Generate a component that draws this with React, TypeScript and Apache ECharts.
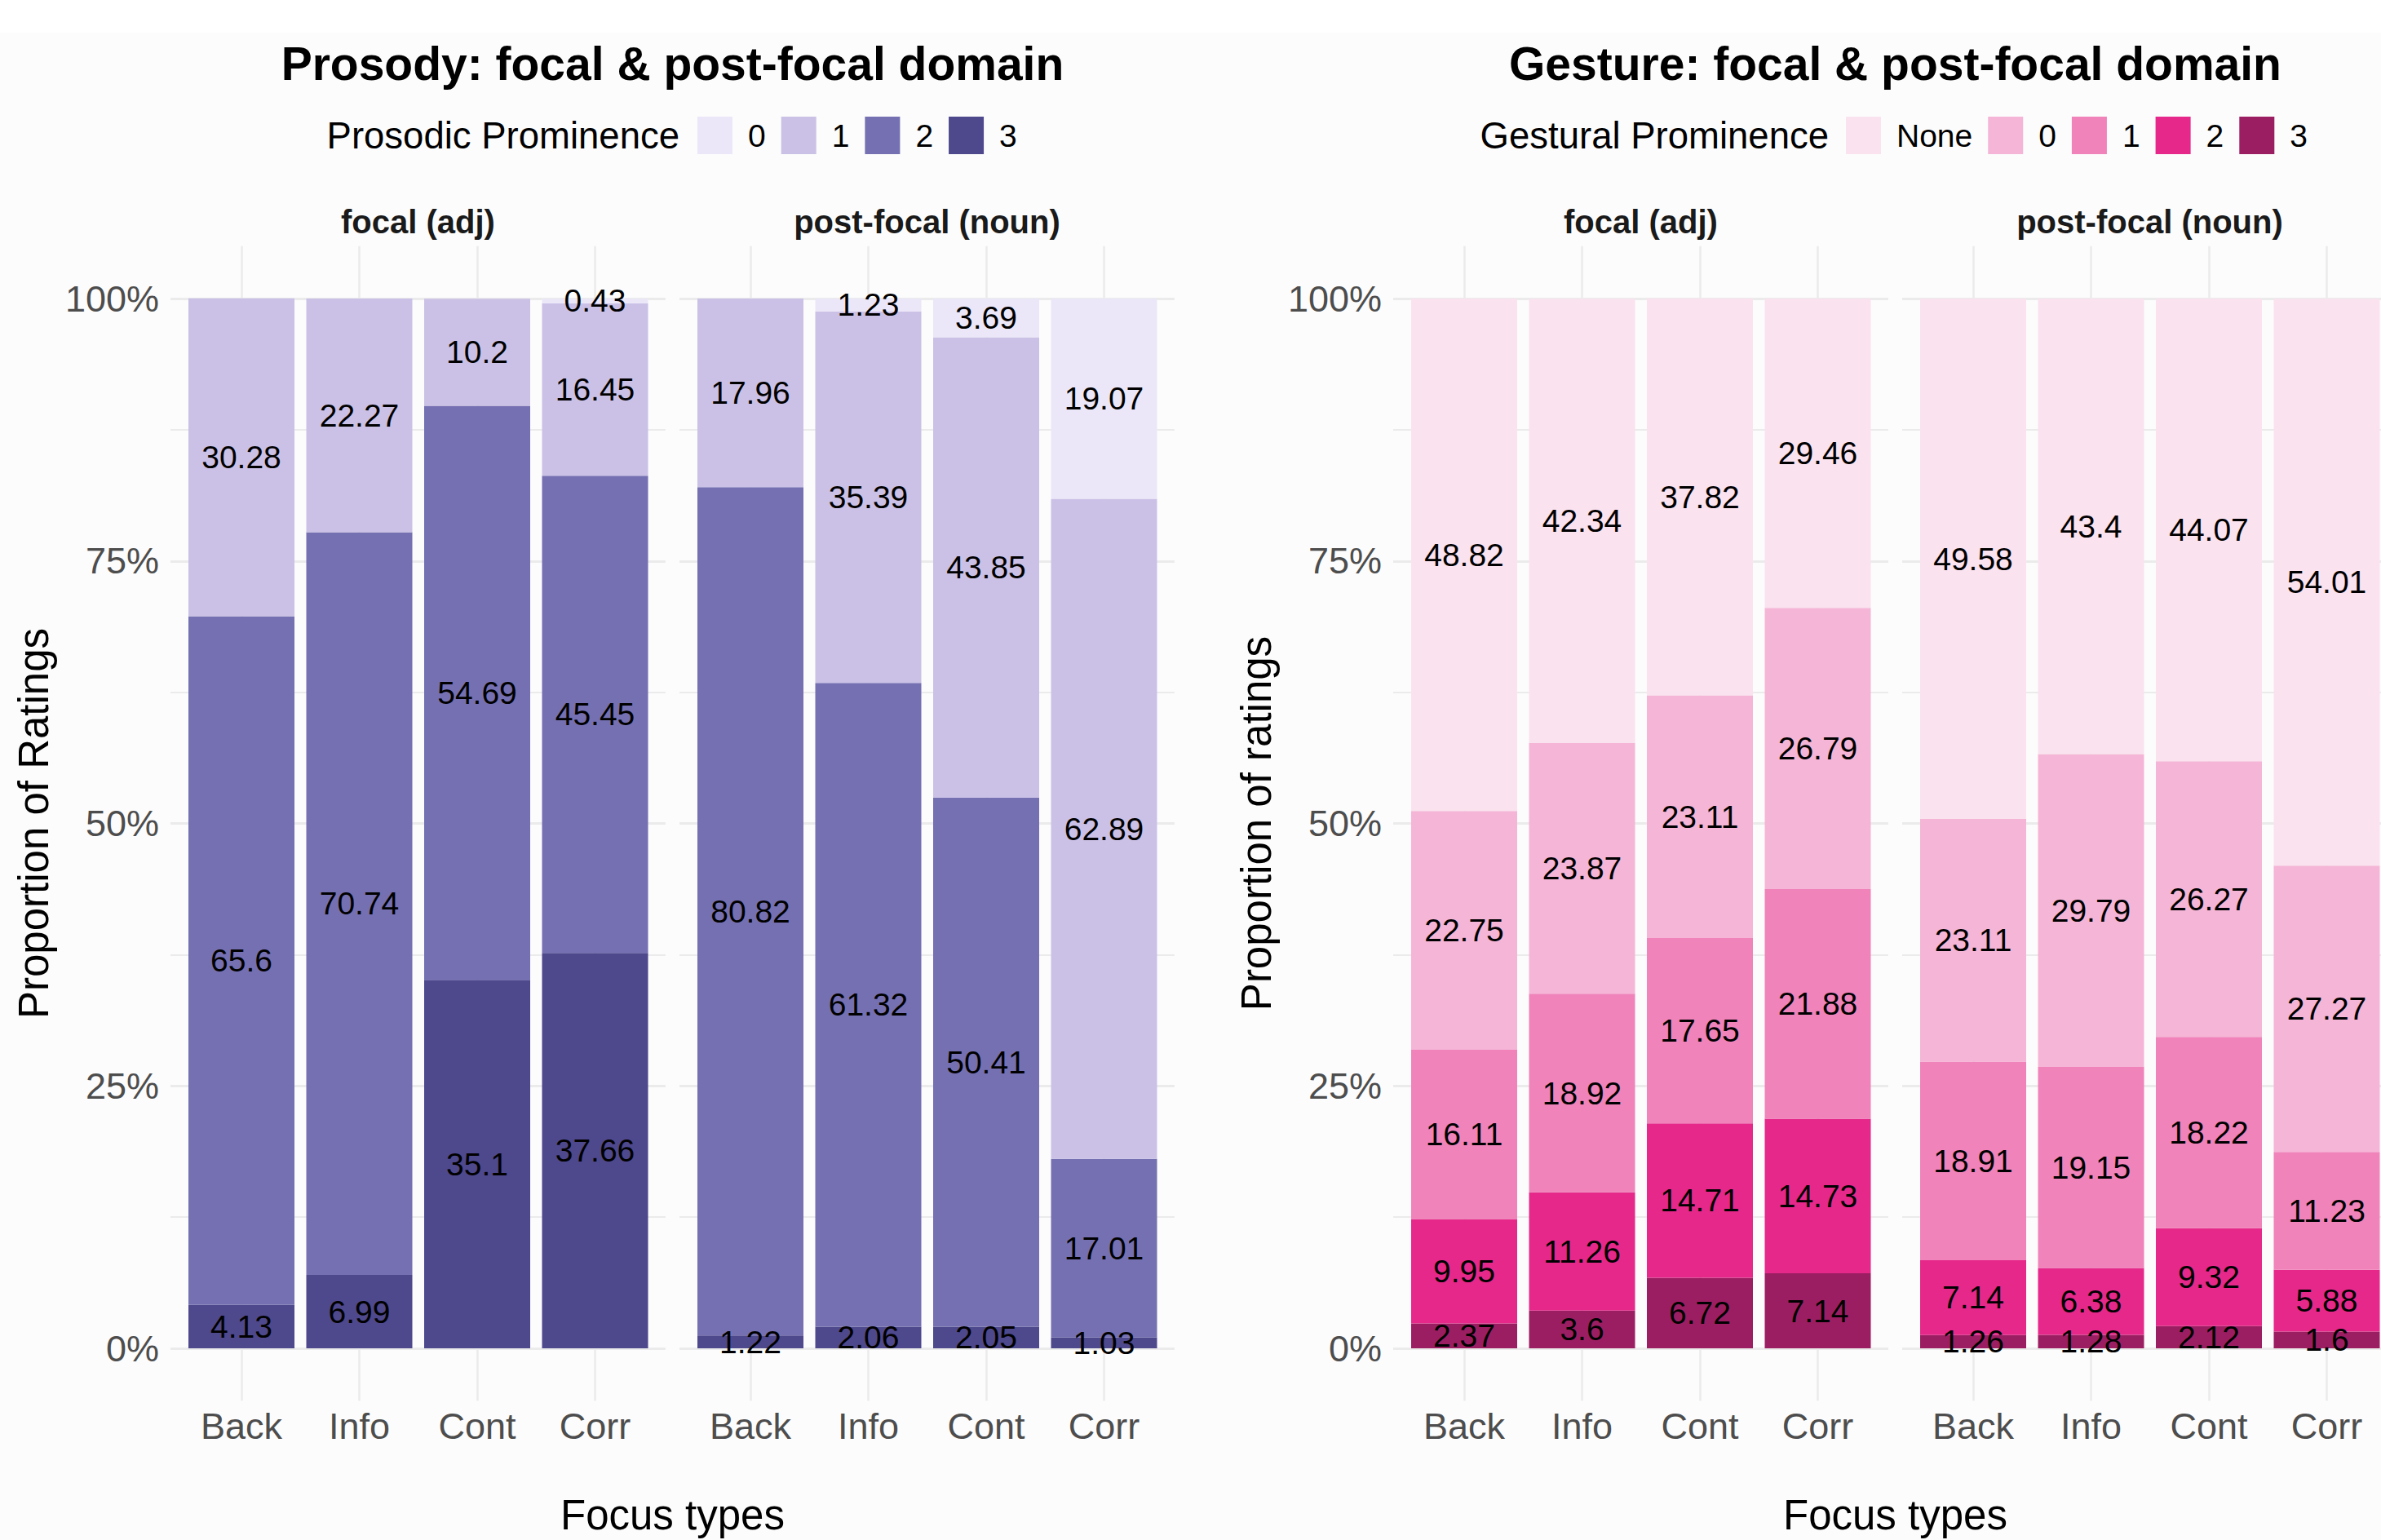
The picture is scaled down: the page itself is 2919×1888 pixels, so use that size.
import React, { useEffect, useRef } from "react";
import * as echarts from "echarts";

// ---------- data ----------
const focusTypes = ["Back", "Info", "Cont", "Corr"];
const facetNames = ["focal (adj)", "post-focal (noun)"];

const prosodyLevels = ["0", "1", "2", "3"];
const prosodyColors = ["#ECE7F8", "#CBC1E6", "#7570B2", "#4E488D"];
// values per focus type: Back, Info, Cont, Corr
const prosodyFocal0 = [null, null, null, 0.43];
const prosodyFocal1 = [30.28, 22.27, 10.2, 16.45];
const prosodyFocal2 = [65.6, 70.74, 54.69, 45.45];
const prosodyFocal3 = [4.13, 6.99, 35.1, 37.66];
const prosodyPost0 = [null, 1.23, 3.69, 19.07];
const prosodyPost1 = [17.96, 35.39, 43.85, 62.89];
const prosodyPost2 = [80.82, 61.32, 50.41, 17.01];
const prosodyPost3 = [1.22, 2.06, 2.05, 1.03];

const gestureLevels = ["None", "0", "1", "2", "3"];
const gestureColors = ["#FAE2EF", "#F5B5D6", "#EF83BA", "#E5288A", "#9C1E62"];
const gestureFocalNone = [48.82, 42.34, 37.82, 29.46];
const gestureFocal0 = [22.75, 23.87, 23.11, 26.79];
const gestureFocal1 = [16.11, 18.92, 17.65, 21.88];
const gestureFocal2 = [9.95, 11.26, 14.71, 14.73];
const gestureFocal3 = [2.37, 3.6, 6.72, 7.14];
const gesturePostNone = [49.58, 43.4, 44.07, 54.01];
const gesturePost0 = [23.11, 29.79, 26.27, 27.27];
const gesturePost1 = [18.91, 19.15, 18.22, 11.23];
const gesturePost2 = [7.14, 6.38, 9.32, 5.88];
const gesturePost3 = [1.26, 1.28, 2.12, 1.6];

const yTickStep = 25;

// ---------- layout ----------
const FONT = '"Liberation Sans", Arial, Helvetica, sans-serif';
const PANEL_H_LEFT = [209, 833];
const PANEL_CENTER_LEFT = [296, 920];
const SPACING = 144.5;
const Y100 = 366;
const Y0 = 1653;

type PlotProps = {
  left: number;
  width: number;
  title: string;
  yTitle: string;
  legendTitle: string;
  legendTitleRight: number;
  legendLeft: number;
  levels: string[];
  colors: string[];
  facets: (number | null)[][][];
};

function Plot(props: PlotProps) {
  const ref = useRef<HTMLDivElement>(null);
  useEffect(() => {
    if (!ref.current) return;
    const chart = echarts.init(ref.current, null, { renderer: "svg" });
    const unit = (Y0 - Y100) / 100;
    const vTop = Y100 - 5 * unit;
    const vHeight = 110 * unit;
    const grids: any[] = [];
    const xAxes: any[] = [];
    const yAxes: any[] = [];
    const series: any[] = [];
    const gridLine = "#EBEBEB";
    [0, 1].forEach((p) => {
      const hLeft = PANEL_H_LEFT[p];
      const cLeft = PANEL_CENTER_LEFT[p];
      grids.push({ left: hLeft, top: Y100, width: SPACING * 4.2, height: Y0 - Y100 });
      grids.push({ left: cLeft, top: vTop, width: SPACING * 3, height: vHeight });
      xAxes.push({ gridIndex: 2 * p, type: "value", show: false });
      xAxes.push({
        gridIndex: 2 * p + 1,
        type: "category",
        data: focusTypes,
        boundaryGap: false,
        axisLine: { show: false, onZero: false },
        axisTick: { show: false },
        axisLabel: { interval: 0, fontSize: 45, color: "#4D4D4D", margin: 9, fontFamily: FONT },
        splitLine: { show: true, interval: 0, lineStyle: { color: gridLine, width: 2.5 } },
      });
      yAxes.push({
        gridIndex: 2 * p,
        type: "value",
        min: 0,
        max: 100,
        interval: yTickStep,
        axisLine: { show: false, onZero: false },
        axisTick: { show: false },
        axisLabel: {
          show: p === 0,
          formatter: "{value}%",
          fontSize: 45,
          color: "#4D4D4D",
          margin: 14,
          fontFamily: FONT,
        },
        splitLine: { show: true, lineStyle: { color: gridLine, width: 3 } },
        minorTick: { show: false, splitNumber: 2 },
        minorSplitLine: { show: true, lineStyle: { color: gridLine, width: 1.8 } },
      });
      yAxes.push({ gridIndex: 2 * p + 1, type: "value", min: -5, max: 105, show: false });
      const facet = props.facets[p];
      for (let li = props.levels.length - 1; li >= 0; li--) {
        series.push({
          type: "bar",
          name: props.levels[li],
          stack: "facet" + p,
          xAxisIndex: 2 * p + 1,
          yAxisIndex: 2 * p + 1,
          barWidth: 130,
          clip: false,
          silent: true,
          itemStyle: { color: props.colors[li] },
          label: {
            show: true,
            position: "inside",
            formatter: "{c}",
            color: "#000",
            fontSize: 39,
            fontFamily: FONT,
          },
          data: facet[li].map((v) => (v == null ? "-" : v)),
        });
      }
    });

    const centerX = (PANEL_H_LEFT[0] + PANEL_H_LEFT[1] + SPACING * 4.2) / 2;
    const txt = (x: number, y: number, text: string, size: number, opts: any = {}) => ({
      type: "text",
      x,
      y,
      rotation: opts.rotation || 0,
      silent: true,
      style: {
        text,
        fontSize: size,
        fontWeight: opts.bold ? "bold" : "normal",
        fontFamily: FONT,
        fill: opts.fill || "#000",
        align: opts.align || "center",
        textAlign: opts.align || "center",
        verticalAlign: "middle",
        textVerticalAlign: "middle",
      },
    });

    const graphic = [
      txt(centerX, 78, props.title, 57, { bold: true }),
      txt(props.legendTitleRight, 166, props.legendTitle, 45.5, { align: "right" }),
      txt(PANEL_H_LEFT[0] + SPACING * 2.1, 272, facetNames[0], 40, { bold: true, fill: "#1A1A1A" }),
      txt(PANEL_H_LEFT[1] + SPACING * 2.1, 272, facetNames[1], 40, { bold: true, fill: "#1A1A1A" }),
      txt(centerX, 1857, "Focus types", 51),
      txt(41, (Y0 + Y100) / 2, props.yTitle, 51, { rotation: Math.PI / 2 }),
    ];

    chart.setOption({
      animation: false,
      backgroundColor: "transparent",
      textStyle: { fontFamily: FONT },
      grid: grids,
      xAxis: xAxes,
      yAxis: yAxes,
      legend: {
        left: props.legendLeft,
        top: 143,
        padding: 0,
        orient: "horizontal",
        icon: "rect",
        itemWidth: 43,
        itemHeight: 46,
        itemGap: 19,
        selectedMode: false,
        data: props.levels,
        textStyle: { fontSize: 39, color: "#000", fontFamily: FONT, padding: [0, 0, 0, 14] },
      },
      graphic,
      series,
    });
    return () => chart.dispose();
  }, []);
  return (
    <div
      ref={ref}
      style={{ position: "absolute", left: props.left, top: 0, width: props.width, height: 1888 }}
    />
  );
}

export default function App() {
  const prosodyFacets = [
    [prosodyFocal0, prosodyFocal1, prosodyFocal2, prosodyFocal3],
    [prosodyPost0, prosodyPost1, prosodyPost2, prosodyPost3],
  ];
  const gestureFacets = [
    [gestureFocalNone, gestureFocal0, gestureFocal1, gestureFocal2, gestureFocal3],
    [gesturePostNone, gesturePost0, gesturePost1, gesturePost2, gesturePost3],
  ];
  return (
    <div
      style={{
        position: "absolute",
        left: 0,
        top: 0,
        width: 2919,
        height: 1888,
        overflow: "hidden",
        background: "#FCFCFC",
      }}
    >
      <div style={{ position: "absolute", left: 0, top: 0, width: 2919, height: 40, background: "#FFFFFF" }} />
      <Plot
        left={0}
        width={1499}
        title="Prosody: focal & post-focal domain"
        yTitle="Proportion of Ratings"
        legendTitle="Prosodic Prominence"
        legendTitleRight={833}
        legendLeft={855}
        levels={prosodyLevels}
        colors={prosodyColors}
        facets={prosodyFacets}
      />
      <Plot
        left={1499}
        width={1420}
        title="Gesture: focal & post-focal domain"
        yTitle="Proportion of ratings"
        legendTitle="Gestural Prominence"
        legendTitleRight={743}
        legendLeft={764}
        levels={gestureLevels}
        colors={gestureColors}
        facets={gestureFacets}
      />
    </div>
  );
}
